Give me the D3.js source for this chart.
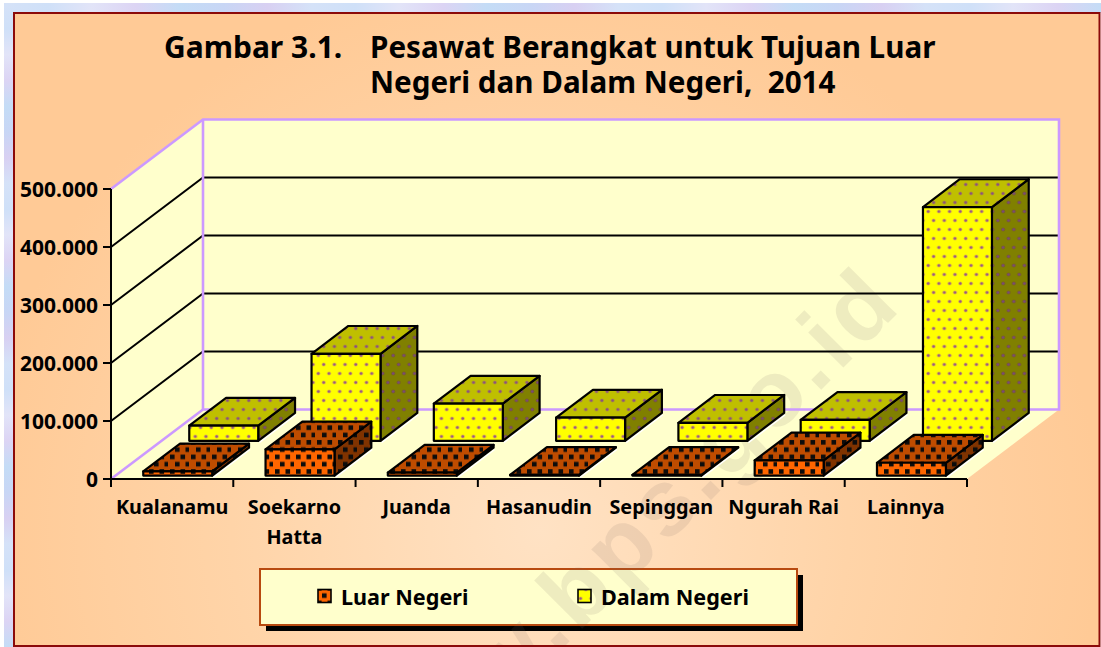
<!DOCTYPE html>
<html><head><meta charset="utf-8">
<script src="https://cdn.jsdelivr.net/npm/d3@7/dist/d3.min.js"></script>
<style>html,body{margin:0;padding:0;background:#fff}svg{display:block}text{font-family:"Noto Sans",sans-serif;font-weight:700;fill:#000}</style>
</head><body><div id="c"></div>
<script>
const categories=["Kualanamu","Soekarno Hatta","Juanda","Hasanudin","Sepinggan","Ngurah Rai","Lainnya"];
const seriesNames=["Luar Negeri","Dalam Negeri"];
const luarNegeri=[7000,45000,5000,1000,1000,26000,22000];
const dalamNegeri=[26000,150000,64000,40000,31000,36000,403000];
const yTicks=[0,100000,200000,300000,400000,500000];
const yTickLabels=["0","100.000","200.000","300.000","400.000","500.000"];
const titleLines=["Gambar 3.1.","Pesawat Berangkat untuk Tujuan Luar","Negeri dan Dalam Negeri,  2014"];

const W=1101,H=647;
const svg=d3.select("#c").append("svg").attr("width",W).attr("height",H);
const defs=svg.append("defs");

const bg=defs.append("radialGradient").attr("id","bg").attr("gradientUnits","userSpaceOnUse")
 .attr("cx",540).attr("cy",530).attr("r",560);
bg.append("stop").attr("offset",0).attr("stop-color","#FFE2C4");
bg.append("stop").attr("offset",.55).attr("stop-color","#FFD4A8");
bg.append("stop").attr("offset",1).attr("stop-color","#FFCA96");
const strip=(id,x2,y2)=>{const g=defs.append("linearGradient").attr("id",id).attr("x1",0).attr("y1",0).attr("x2",x2).attr("y2",y2);
 d3.range(0,1.001,.04).forEach((o,i)=>g.append("stop").attr("offset",o).attr("stop-color",["#d5e2f8","#c8d6f5","#dcd4f4","#cfe0f8","#d8d0f2","#c4dcf6","#e2e4f8"][(i*3)%7]));};
strip("stripH",1,0);strip("stripV",0,1);

function dots(id,base,dot,halo){
 const p=defs.append("pattern").attr("id",id).attr("patternUnits","userSpaceOnUse").attr("width",10.7).attr("height",18);
 p.append("rect").attr("width",10.7).attr("height",18).attr("fill",base);
 [[2.7,4.5],[8,13.5]].forEach(([x,y])=>{
  p.append("circle").attr("cx",x).attr("cy",y).attr("r",2.1).attr("fill",halo);
  p.append("circle").attr("cx",x).attr("cy",y).attr("r",1.3).attr("fill",dot);
 });
}
function squares(id,base){
 const p=defs.append("pattern").attr("id",id).attr("patternUnits","userSpaceOnUse").attr("width",21).attr("height",14.6);
 p.append("rect").attr("width",21).attr("height",14.6).attr("fill",base);
 [[2,2],[12.5,2],[7,9.3],[17.5,9.3]].forEach(([x,y])=>p.append("rect").attr("x",x).attr("y",y).attr("width",4.6).attr("height",4.6).attr("fill","#0c0c0c"));
}
dots("yF","#FFFF00","#9A5A80","#E0C040");dots("yT","#BFBF00","#8C5080","#AE9A30");dots("yS","#808000","#7A4A78","#786020");
squares("oF","#FF6600");squares("oT","#BF4C00");squares("oS","#803300");

svg.append("rect").attr("x",4).attr("y",3).attr("width",1097).attr("height",10).attr("fill","url(#stripH)");
svg.append("rect").attr("x",4).attr("y",3).attr("width",10).attr("height",644).attr("fill","url(#stripV)");
svg.append("rect").attr("x",14).attr("y",13).attr("width",1085.5).attr("height",633).attr("fill","url(#bg)").attr("stroke","#8B0A0A").attr("stroke-width",2);

const FX=111,FY=479,DX=92,DY=69.5;
const x=d3.scaleBand().domain(categories).range([FX+1,FX+857]).paddingInner(.436).paddingOuter(.218);
const xTick=d3.scaleLinear().domain([0,categories.length]).range([FX,FX+856]);
const y=d3.scaleLinear().domain([0,500000]).range([FY,FY-290]);
const zRow=d3.scaleBand().domain(seriesNames).range([0,1]).paddingInner(.2).paddingOuter(.1);
const P=(sx,v,z)=>[sx+DX*z,y(v)-DY*z];
const poly=a=>a.map(p=>p.join(",")).join(" ");

const WALL="#FFFFCC",PUR="#CC99FF";
const gW=svg.append("g");
gW.append("polygon").attr("points",poly([P(FX,0,0),P(FX+856,0,0),P(FX+856,0,1),P(FX,0,1)])).attr("fill",WALL);
gW.append("polygon").attr("points",poly([P(FX,0,0),P(FX,500000,0),P(FX,500000,1),P(FX,0,1)])).attr("fill",WALL);
gW.append("polygon").attr("points",poly([P(FX,0,1),P(FX,500000,1),P(FX+856,500000,1),P(FX+856,0,1)])).attr("fill",WALL);

const L={x:260,y:569,w:537,h:56};
svg.append("rect").attr("x",L.x+6).attr("y",L.y+6).attr("width",L.w).attr("height",L.h).attr("fill","#000");
svg.append("rect").attr("x",L.x).attr("y",L.y).attr("width",L.w).attr("height",L.h).attr("fill",WALL).attr("stroke","#B84A10").attr("stroke-width",2);

defs.append("clipPath").attr("id","pc").append("rect").attr("x",15).attr("y",14).attr("width",1084).attr("height",631);
svg.append("g").attr("clip-path","url(#pc)").append("text").text("www.bps.go.id")
 .attr("transform","translate(905,306) rotate(-45)").attr("text-anchor","end")
 .style("font-family","'Liberation Sans'").style("font-size","94px").style("letter-spacing","5px").style("fill","#7A6964").attr("opacity",.12);

const gG=svg.append("g");
yTicks.slice(1,-1).forEach(t=>{
 gG.append("polyline").attr("points",poly([P(FX,t,0),P(FX,t,1),P(FX+856,t,1)])).attr("fill","none").attr("stroke","#000").attr("stroke-width",2);
});
gG.append("polyline").attr("points",poly([P(FX,0,0),P(FX,0,1),P(FX+856,0,1),P(FX+856,500000,1),P(FX,500000,1),P(FX,500000,0)])).attr("fill","none").attr("stroke",PUR).attr("stroke-width",2.6);
gG.append("line").attr("x1",P(FX,0,1)[0]).attr("x2",P(FX,0,1)[0]).attr("y1",y(0)-DY).attr("y2",y(500000)-DY).attr("stroke",PUR).attr("stroke-width",2.6);

const gA=svg.append("g").attr("stroke","#000").attr("stroke-width",2);
gA.append("line").attr("x1",FX).attr("x2",FX).attr("y1",y(0)).attr("y2",y(500000));
gA.append("line").attr("x1",FX-8).attr("x2",FX+856).attr("y1",y(0)).attr("y2",y(0));
yTicks.forEach(t=>gA.append("line").attr("x1",FX-8).attr("x2",FX).attr("y1",y(t)).attr("y2",y(t)));
d3.range(categories.length+1).forEach(i=>gA.append("line").attr("x1",xTick(i)).attr("x2",xTick(i)).attr("y1",FY).attr("y2",FY+8));

function bar(g,c,v,s,pre){
 const z0=zRow(s),z1=z0+zRow.bandwidth(),a=x(c),b=a+x.bandwidth();
 const h=g.append("g").attr("stroke-linejoin","round");
 const e0=P(b,0,z0),e1=P(b,0,z1);
 h.append("line").attr("x1",e0[0]+1).attr("y1",e0[1]+1.8).attr("x2",e1[0]+1).attr("y2",e1[1]+1.8).attr("stroke","#fff").attr("stroke-width",1.4);
 const face=(pts,f)=>h.append("polygon").attr("points",poly(pts)).attr("fill",`url(#${f})`).attr("stroke","#000").attr("stroke-width",2.2);
 face([P(b,0,z0),P(b,v,z0),P(b,v,z1),P(b,0,z1)],pre+"S");
 face([P(a,v,z0),P(b,v,z0),P(b,v,z1),P(a,v,z1)],pre+"T");
 face([P(a,0,z0),P(b,0,z0),P(b,v,z0),P(a,v,z0)],pre+"F");
}
const gB=svg.append("g");
categories.forEach((c,i)=>bar(gB,c,dalamNegeri[i],seriesNames[1],"y"));
categories.forEach((c,i)=>bar(gB,c,luarNegeri[i],seriesNames[0],"o"));

yTicks.forEach((t,i)=>svg.append("text").attr("x",98).attr("y",y(t)).attr("dy",".36em").attr("text-anchor","end").style("font-size","21px").text(yTickLabels[i]));
categories.forEach((c,i)=>{
 const cx=xTick(i+.5);
 const parts=c==="Soekarno Hatta"?["Soekarno","Hatta"]:[c];
 parts.forEach((p,j)=>svg.append("text").attr("x",cx).attr("y",514+j*30).attr("text-anchor","middle").style("font-size","19.8px").text(p));
});

const tt=svg.append("g");
tt.append("text").attr("x",164).attr("y",58).style("font-size","30px").text(titleLines[0]);
tt.append("text").attr("x",370).attr("y",58).style("font-size","29.6px").text(titleLines[1]);
tt.append("text").attr("x",370).attr("y",93).style("font-size","29.6px").style("white-space","pre").text(titleLines[2]);

[[318,341,"oF"],[578,601,"yF"]].forEach(([sx,tx,f],i)=>{
 svg.append("rect").attr("x",sx).attr("y",589.5).attr("width",13).attr("height",13).attr("fill",`url(#${f})`).attr("stroke","#000").attr("stroke-width",1.6);
 svg.append("text").attr("x",tx).attr("y",605).style("font-size","21.6px").text(seriesNames[i]);
});
</script></body></html>
